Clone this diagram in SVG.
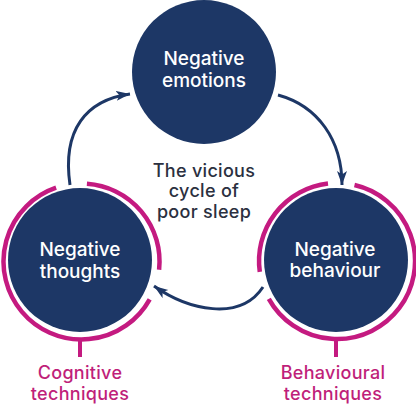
<svg xmlns="http://www.w3.org/2000/svg" width="416" height="404" viewBox="0 0 416 404">
  <style>
    .node { fill: #1d3766; }
    .ring { fill: none; stroke: #c41a80; stroke-width: 4.5; }
    .tick { stroke: #c41a80; stroke-width: 4; }
    .conn { fill: none; stroke: #1d3766; stroke-width: 3; }
    .t { font-family: Inter, "Liberation Sans", sans-serif; font-weight: 500; font-size: 19px; text-anchor: middle; }
    .s { font-size: 18px; letter-spacing: 0.3px; }
    .w { fill: #ffffff; }
    .c { fill: #2b3040; }
    .m { fill: #bf1f7a; }
  </style>
  <defs>
    <marker id="ah" markerUnits="userSpaceOnUse" markerWidth="16" markerHeight="12" refX="14" refY="5" orient="auto">
      <path d="M0,0 L14,5 L0,10 L3.5,5 Z" fill="#1d3766"/>
    </marker>
  </defs>
  <rect width="416" height="404" fill="#ffffff"/>

  <g id="connectors">
    <path class="conn" d="M70,185 C62,130 86,100 130,94" marker-end="url(#ah)"/>
    <path class="conn" d="M278,95 C318,106 342,140 342,185" marker-end="url(#ah)"/>
    <path class="conn" d="M263,287 C240,322 188,310 154,286" marker-end="url(#ah)"/>
  </g>

  <g id="negative-emotions">
    <circle class="node" cx="204" cy="72" r="72"/>
    <text class="t w" x="204" y="65">Negative</text>
    <text class="t w" x="204" y="87">emotions</text>
  </g>

  <g id="negative-thoughts">
    <circle class="node" cx="80" cy="260" r="72"/>
    <path class="ring" d="M86.9,183.7 A78,78 0 0 1 159.1,269.7"/>
    <path class="ring" d="M149.7,299.3 A78,78 0 1 1 56.1,187.7"/>
    <line class="tick" x1="80" y1="339" x2="80" y2="357"/>
    <text class="t w" x="80" y="256">Negative</text>
    <text class="t w" x="80" y="278">thoughts</text>
  </g>

  <g id="negative-behaviour">
    <circle class="node" cx="336" cy="260" r="72"/>
    <path class="ring" d="M354.5,185 A78,78 0 1 1 268.8,298.8"/>
    <path class="ring" d="M259.8,271.9 A78,78 0 0 1 328,183.5"/>
    <line class="tick" x1="336" y1="339" x2="336" y2="357"/>
    <text class="t w" x="335" y="256">Negative</text>
    <text class="t w" x="335" y="277">behaviour</text>
  </g>

  <g id="center-label">
    <text class="t s c" x="204" y="176.5">The vicious</text>
    <text class="t s c" x="204" y="197">cycle of</text>
    <text class="t s c" x="204" y="217.5">poor sleep</text>
  </g>

  <g id="cognitive-techniques">
    <text class="t s m" x="80" y="379">Cognitive</text>
    <text class="t s m" x="80" y="399.5">techniques</text>
  </g>

  <g id="behavioural-techniques">
    <text class="t s m" x="333" y="379">Behavioural</text>
    <text class="t s m" x="333" y="399.5">techniques</text>
  </g>
</svg>
